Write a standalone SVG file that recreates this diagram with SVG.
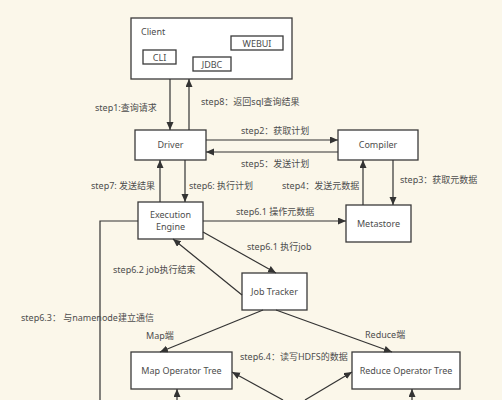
<svg xmlns="http://www.w3.org/2000/svg" width="502" height="400" viewBox="0 0 502 400">
<style>
.bg{fill:#fbf7ea}
.box{fill:#ffffff;stroke:#3a3a3a;stroke-width:1.3}
.t{font-family:"Noto Sans","Noto Sans CJK SC",sans-serif;font-size:9px;fill:#4d4d4d}
.c{text-anchor:middle}
.ln{fill:none;stroke:#333333;stroke-width:1.2}
.ar{marker-end:url(#ah)}
</style>
<defs>
<marker id="ah" markerUnits="userSpaceOnUse" markerWidth="9" markerHeight="8" refX="8" refY="3.5" orient="auto">
<path d="M0,0 L8,3.5 L0,7 z" fill="#333333"/>
</marker>
</defs>
<rect class="bg" x="0" y="0" width="502" height="400"/>

<g id="client">
<rect class="box" x="131" y="18" width="161" height="61"/>
<text class="t" x="141" y="35">Client</text>
<rect class="box" x="143" y="50" width="33" height="14"/>
<text class="t c" x="159.5" y="60.5">CLI</text>
<rect class="box" x="193" y="57" width="38" height="14"/>
<text class="t c" x="212" y="67.5">JDBC</text>
<rect class="box" x="231" y="36" width="52" height="14"/>
<text class="t c" x="257" y="46.5">WEBUI</text>
</g>

<g id="driver">
<rect class="box" x="135" y="130" width="71" height="30"/>
<text class="t c" x="170.5" y="148">Driver</text>
</g>

<g id="compiler">
<rect class="box" x="338" y="130" width="80" height="30"/>
<text class="t c" x="378" y="148">Compiler</text>
</g>

<g id="execution-engine">
<rect class="box" x="138" y="202" width="65" height="37"/>
<text class="t c" x="170.5" y="218">Execution</text>
<text class="t c" x="170.5" y="230">Engine</text>
</g>

<g id="metastore">
<rect class="box" x="346" y="205" width="65" height="37"/>
<text class="t c" x="378.5" y="227">Metastore</text>
</g>

<g id="job-tracker">
<rect class="box" x="242" y="273" width="65" height="37"/>
<text class="t c" x="274.5" y="295">Job Tracker</text>
</g>

<g id="map-operator-tree">
<rect class="box" x="131" y="352" width="101" height="37"/>
<text class="t c" x="181.5" y="374">Map Operator Tree</text>
</g>

<g id="reduce-operator-tree">
<rect class="box" x="352" y="352" width="108" height="37"/>
<text class="t c" x="406" y="374">Reduce Operator Tree</text>
</g>

<g id="connectors">
<line class="ln ar" x1="170" y1="79" x2="170" y2="130"/>
<line class="ln ar" x1="189" y1="130" x2="189" y2="79"/>
<line class="ln ar" x1="206" y1="140" x2="338" y2="140"/>
<line class="ln ar" x1="338" y1="152" x2="206" y2="152"/>
<line class="ln ar" x1="160" y1="202" x2="160" y2="160"/>
<line class="ln ar" x1="185" y1="160" x2="185" y2="202"/>
<line class="ln ar" x1="363" y1="205" x2="363" y2="160"/>
<line class="ln ar" x1="393" y1="160" x2="393" y2="205"/>
<line class="ln ar" x1="203" y1="221" x2="346" y2="221"/>
<line class="ln ar" x1="203" y1="232" x2="276" y2="273"/>
<line class="ln ar" x1="242" y1="295" x2="173" y2="239"/>
<polyline class="ln" points="138,221 100,221 100,400"/>
<line class="ln ar" x1="263" y1="310" x2="160" y2="352"/>
<line class="ln ar" x1="276" y1="310" x2="392" y2="352"/>
<line class="ln ar" x1="283" y1="400" x2="232" y2="372"/>
<line class="ln ar" x1="305" y1="400" x2="352" y2="372"/>
<line class="ln ar" x1="177" y1="400" x2="177" y2="389"/>
<line class="ln ar" x1="412" y1="400" x2="412" y2="389"/>

<text class="t" x="95" y="111">step1:查询请求</text>
<text class="t" x="201" y="105">step8：返回sql查询结果</text>
<text class="t" x="241" y="134">step2：获取计划</text>
<text class="t" x="241" y="167">step5：发送计划</text>
<text class="t" x="91" y="189">step7: 发送结果</text>
<text class="t" x="189" y="189">step6: 执行计划</text>
<text class="t" x="282" y="189">step4：发送元数据</text>
<text class="t" x="400" y="183">step3：获取元数据</text>
<text class="t" x="236" y="215">step6.1 操作元数据</text>
<text class="t" x="247" y="250">step6.1 执行job</text>
<text class="t" x="113" y="273">step6.2 job执行结束</text>
<text class="t" x="21" y="321">step6.3： 与namenode建立通信</text>
<text class="t" x="146" y="339">Map端</text>
<text class="t" x="365" y="338">Reduce端</text>
<text class="t" x="240" y="360">step6.4：读写HDFS的数据</text>
</g>
</svg>
